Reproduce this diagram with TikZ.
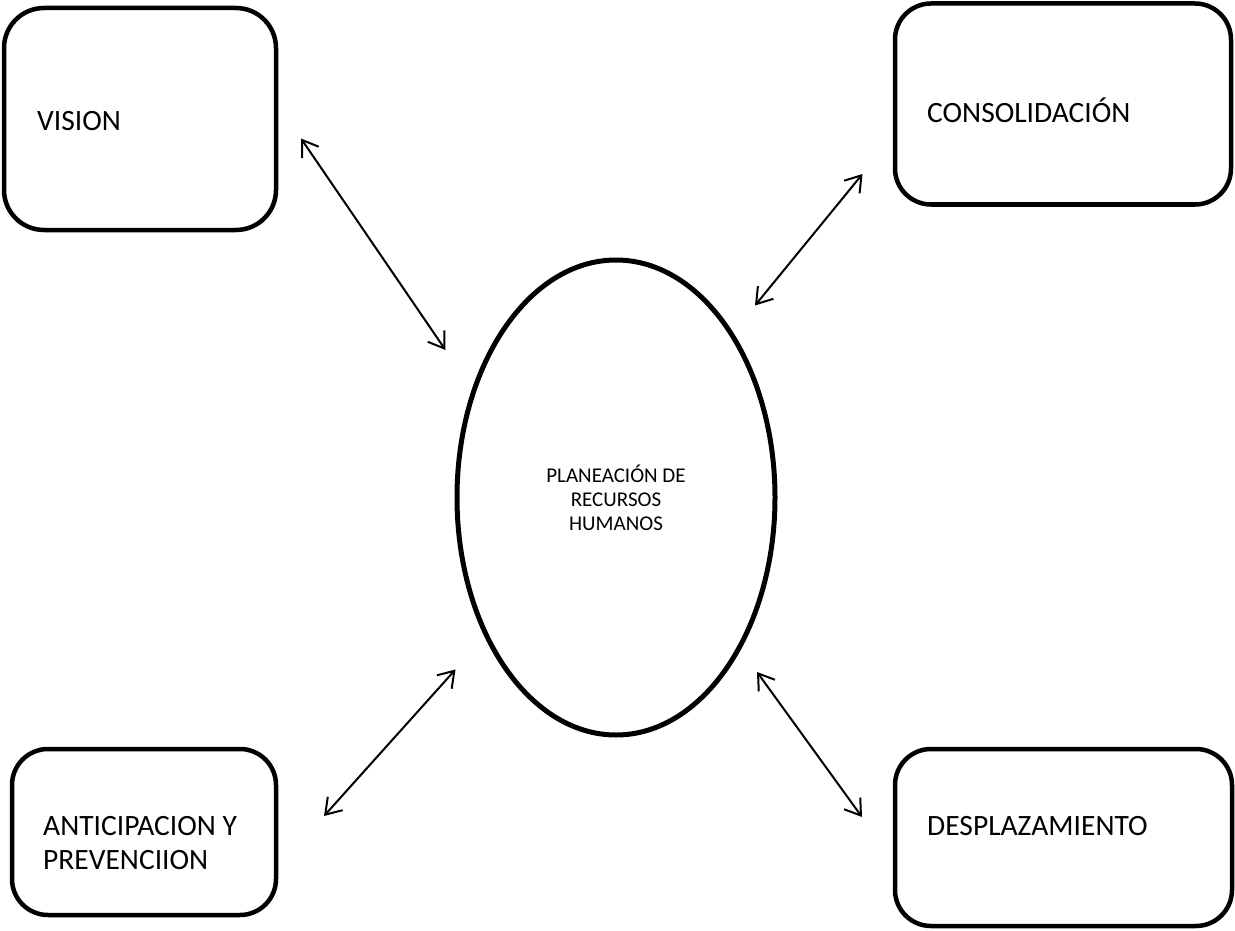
\documentclass[tikz,border=0pt]{standalone}
\usepackage{fontspec}
\setmainfont{Carlito}
\usetikzlibrary{shapes.geometric,arrows.meta}
\begin{document}
\begin{tikzpicture}[x=1pt,y=-1pt,
  box/.style={draw, line width=4.5pt, rounded corners=36pt, inner sep=0pt, minimum width=#1},
  lbl/.style={anchor=base west, inner sep=0pt, font=\fontsize{29.5}{34}\selectfont},
  conn/.style={line width=2pt, line cap=round, {Straight Barb[length=15pt,width=20pt,line width=2pt]}-{Straight Barb[length=15pt,width=20pt,line width=2pt]}}]
\useasboundingbox (0,0) rectangle (1235,931);
\fill[white] (0,0) rectangle (1235,931);
% boxes
\node[box=272pt, minimum height=222pt, rounded corners=40pt] (vision) at (140,119) {};
\node[box=336pt, minimum height=201pt] (consol) at (1063,104) {};
\node[box=264pt, minimum height=166pt] (antic) at (144,832) {};
\node[box=337pt, minimum height=177pt] (despl) at (1063.5,837.5) {};
% texts
\node[lbl] (tvision) at (37,131) {VISION};
\node[lbl] (tconsol) at (927,123) {CONSOLIDACIÓN};
\node[lbl] (tantic1) at (43,835) {ANTICIPACION Y};
\node[lbl] (tantic2) at (43,869) {PREVENCIION};
\node[lbl] (tdespl) at (927,835) {DESPLAZAMIENTO};
% ellipse
\node[draw, ellipse, line width=5pt, minimum width=318pt, minimum height=475pt, inner sep=0pt,
  align=center, font=\fontsize{21}{24}\selectfont] (ell) at (616,497.5)
  {PLANEACIÓN DE\\RECURSOS\\HUMANOS};
% connector ends
\coordinate (a1s) at (301,138.5);
\coordinate (a1e) at (445.5,350);
\coordinate (a2s) at (862.5,174);
\coordinate (a2e) at (755,305.5);
\coordinate (a3s) at (455.5,669.5);
\coordinate (a3e) at (324,816);
\coordinate (a4s) at (757,672);
\coordinate (a4e) at (862,817);
\draw[conn] (a1s) -- (a1e);
\draw[conn] (a2s) -- (a2e);
\draw[conn] (a3s) -- (a3e);
\draw[conn] (a4s) -- (a4e);
\end{tikzpicture}
\end{document}
